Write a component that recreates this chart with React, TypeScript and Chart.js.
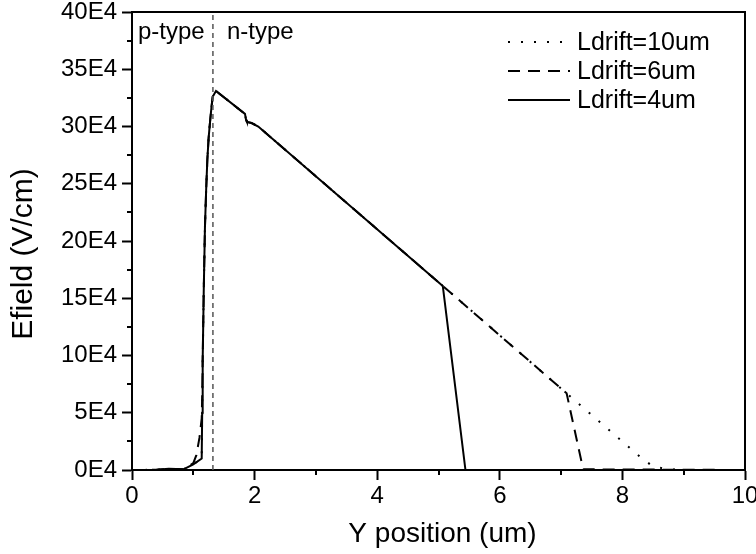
import React, { useEffect, useRef } from "react";
import { Chart, registerables } from "chart.js";

Chart.register(...registerables);

// ---- data (Efield in units of 1E4 V/cm, position in um) ----
const x4 = [0, 0.4, 0.6, 0.84, 1.0, 1.137, 1.145, 1.153, 1.17, 1.19, 1.21, 1.229, 1.25, 1.273, 1.295, 1.316, 1.37, 1.843, 1.86, 1.875, 1.95, 2.06, 5.07, 5.44, 10];
const y4 = [0, 0.02, 0.1, 0.06, 0.5, 1.0, 5.0, 9.6, 15.5, 21.2, 24.5, 27.1, 29.0, 30.4, 31.6, 32.6, 33.1, 31.1, 30.6, 30.4, 30.3, 30.0, 16.07, 0, 0];

const x6 = [0, 0.4, 0.6, 0.84, 1.0, 1.05, 1.1, 1.137, 1.145, 1.153, 1.17, 1.19, 1.21, 1.229, 1.25, 1.273, 1.295, 1.316, 1.37, 1.843, 1.86, 1.875, 1.95, 2.06, 5.07, 7.09, 7.36, 10];
const y6 = [0, 0.02, 0.1, 0.06, 0.6, 1.3, 2.8, 4.5, 6.5, 9.6, 15.5, 21.2, 24.5, 27.1, 29.0, 30.4, 31.6, 32.6, 33.1, 31.1, 30.6, 30.4, 30.3, 30.0, 16.07, 6.7, 0.06, 0];

const x10 = [0, 0.4, 0.6, 0.84, 1.0, 1.137, 1.145, 1.153, 1.17, 1.19, 1.21, 1.229, 1.25, 1.273, 1.295, 1.316, 1.37, 1.843, 1.86, 1.875, 1.95, 2.06, 5.07, 7.09, 8.3, 8.45, 8.6, 8.8, 9.0, 10];
const y10 = [0, 0.02, 0.1, 0.06, 0.5, 1.0, 5.0, 9.6, 15.5, 21.2, 24.5, 27.1, 29.0, 30.4, 31.6, 32.6, 33.1, 31.1, 30.6, 30.4, 30.3, 30.0, 16.07, 6.7, 1.1, 0.5, 0.2, 0.05, 0, 0];

const junctionX = [1.32, 1.32];
const junctionY = [0, 40];

const seriesLabels = ["Ldrift=10um", "Ldrift=6um", "Ldrift=4um"];
const regionLabels = ["p-type", "n-type"];
const xTitle = "Y position (um)";
const yTitle = "Efield (V/cm)";
const xMinorTicks = [1, 3, 5, 7, 9];
const yMinorTicks = [2.5, 7.5, 12.5, 17.5, 22.5, 27.5, 32.5, 37.5];

const FONT = "'Liberation Sans', Arial, sans-serif";

const zip = (xs: number[], ys: number[]) => xs.map((x, i) => ({ x, y: ys[i] }));

const dashes: number[][] = [[2, 11], [12, 8], []];

const overlayPlugin = {
  id: "overlay",
  afterDraw(chart: any) {
    const { ctx, chartArea } = chart;
    const xs = chart.scales.x;
    const ys = chart.scales.y;
    const { left, right, top, bottom } = chartArea;
    ctx.save();
    ctx.strokeStyle = "#000";
    ctx.lineWidth = 2;
    ctx.setLineDash([]);
    // top and right frame
    ctx.beginPath();
    ctx.moveTo(left - 1, top);
    ctx.lineTo(right, top);
    ctx.lineTo(right, bottom + 1);
    ctx.stroke();
    // minor ticks
    ctx.beginPath();
    xMinorTicks.forEach((v) => {
      const p = Math.round(xs.getPixelForValue(v));
      ctx.moveTo(p, bottom);
      ctx.lineTo(p, bottom + 5);
    });
    yMinorTicks.forEach((v) => {
      const p = Math.round(ys.getPixelForValue(v));
      ctx.moveTo(left, p);
      ctx.lineTo(left - 5, p);
    });
    ctx.stroke();

    ctx.fillStyle = "#000";

    // axis titles
    ctx.font = `28px ${FONT}`;
    ctx.textAlign = "center";
    ctx.textBaseline = "alphabetic";
    ctx.fillText(xTitle, (left + right) / 2 + 4, bottom + 72);
    ctx.save();
    ctx.translate(32, (top + bottom) / 2 + 13);
    ctx.rotate(-Math.PI / 2);
    ctx.font = `30px ${FONT}`;
    ctx.fillText(yTitle, 0, 0);
    ctx.restore();

    // region labels
    const jx = xs.getPixelForValue(junctionX[0]);
    ctx.font = `24px ${FONT}`;
    ctx.textBaseline = "alphabetic";
    ctx.textAlign = "left";
    ctx.fillText(regionLabels[0], left + 6, top + 27);
    ctx.fillText(regionLabels[1], jx + 14, top + 27);

    // legend
    ctx.font = `25px ${FONT}`;
    ctx.textBaseline = "middle";
    seriesLabels.forEach((lab, i) => {
      const cy = top + 30 + i * 29;
      ctx.beginPath();
      ctx.setLineDash(dashes[i]);
      ctx.lineWidth = 2;
      ctx.moveTo(right - 237, cy);
      ctx.lineTo(right - 175, cy);
      ctx.stroke();
      ctx.setLineDash([]);
      ctx.fillText(lab, right - 168, cy + 1);
    });
    ctx.restore();
  },
};

export default function App() {
  const ref = useRef<HTMLCanvasElement | null>(null);
  useEffect(() => {
    if (!ref.current) return;
    const chart = new Chart(ref.current, {
      type: "line",
      data: {
        datasets: [
          {
            label: "junction",
            data: zip(junctionX, junctionY),
            borderColor: "#555",
            borderWidth: 1.5,
            borderDash: [5, 4],
            pointRadius: 0,
          },
          {
            label: seriesLabels[0],
            data: zip(x10, y10),
            borderColor: "#000",
            borderWidth: 2,
            borderDash: dashes[0],
            pointRadius: 0,
          },
          {
            label: seriesLabels[1],
            data: zip(x6, y6),
            borderColor: "#000",
            borderWidth: 2,
            borderDash: dashes[1],
            pointRadius: 0,
          },
          {
            label: seriesLabels[2],
            data: zip(x4, y4),
            borderColor: "#000",
            borderWidth: 2,
            pointRadius: 0,
          },
        ],
      },
      options: {
        animation: false,
        responsive: true,
        maintainAspectRatio: false,
        layout: { padding: { top: 0, right: 0, left: 0, bottom: 0 } },
        plugins: { legend: { display: false }, tooltip: { enabled: false } },
        scales: {
          x: {
            type: "linear",
            min: 0,
            max: 10,
            ticks: { stepSize: 2, color: "#000", padding: 2, font: { family: FONT, size: 24 } },
            grid: { drawOnChartArea: false, drawTicks: true, tickLength: 10, tickWidth: 2, tickColor: "#000" },
            border: { display: true, color: "#000", width: 2 },
            title: { display: false, text: xTitle },
            afterFit: (s: any) => {
              s.height = 84;
              s.paddingLeft = 0;
              s.paddingRight = 11;
            },
          },
          y: {
            type: "linear",
            min: 0,
            max: 40,
            ticks: {
              stepSize: 5,
              color: "#000",
              padding: 5,
              font: { family: FONT, size: 24 },
              callback: (v: any) => `${v}E4`,
            },
            grid: { drawOnChartArea: false, drawTicks: true, tickLength: 10, tickWidth: 2, tickColor: "#000" },
            border: { display: true, color: "#000", width: 2 },
            title: { display: false, text: yTitle },
            afterFit: (s: any) => {
              s.width = 132;
              s.paddingTop = 12;
              s.paddingBottom = 0;
            },
          },
        },
      },
      plugins: [overlayPlugin],
    });
    return () => chart.destroy();
  }, []);
  return (
    <div style={{ position: "fixed", left: 0, top: 0, width: 756, height: 554, background: "#fff" }}>
      <canvas ref={ref} />
    </div>
  );
}
